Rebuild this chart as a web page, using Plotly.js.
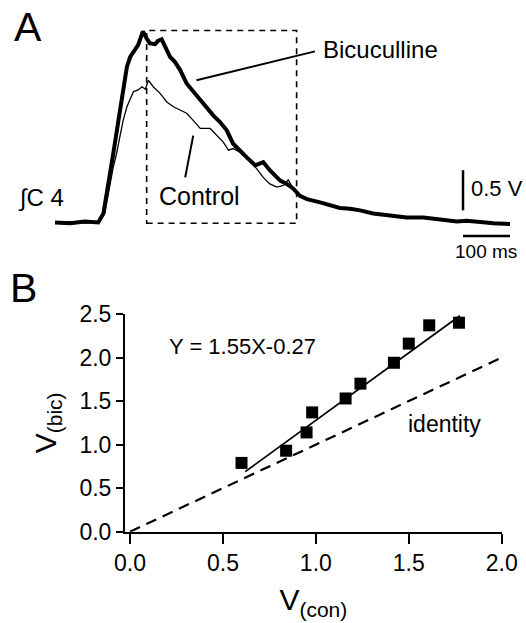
<!DOCTYPE html>
<html>
<head>
<meta charset="utf-8">
<script src="https://cdn.plot.ly/plotly-3.0.1.min.js"></script>
<style>html,body{margin:0;padding:0;background:#fff;}#chart{width:526px;height:623px;}</style>
</head>
<body>
<div id="chart"></div>
<script>
// Panel A: integrated C4 traces (time in ms, voltage in V)
const bicT = [0, 32, 64, 92, 103, 113, 124, 135, 145, 153, 160, 170, 177, 184, 187, 195, 202, 213, 219, 227, 234, 245, 255, 266, 280, 294, 309, 323, 337, 351, 365, 379, 394, 408, 426, 443, 457, 479, 493, 507, 521, 536, 564, 585, 606, 628, 649, 677, 713, 748, 784, 819, 855, 876, 904, 933, 968];
const bicV = [0, -0.01, 0.01, 0, 0.11, 0.44, 0.86, 1.27, 1.69, 1.94, 2.06, 2.15, 2.21, 2.33, 2.38, 2.29, 2.23, 2.22, 2.26, 2.28, 2.19, 2.06, 2.00, 1.90, 1.73, 1.63, 1.54, 1.44, 1.33, 1.25, 1.15, 0.98, 0.90, 0.81, 0.71, 0.75, 0.65, 0.52, 0.48, 0.42, 0.33, 0.29, 0.25, 0.21, 0.18, 0.17, 0.15, 0.11, 0.08, 0.06, 0.06, 0.03, 0.01, 0.02, 0, -0.01, -0.02];
const conT = [0, 32, 64, 94, 106, 113, 124, 131, 138, 145, 153, 160, 167, 177, 185, 192, 199, 209, 223, 238, 252, 266, 280, 294, 309, 330, 344, 358, 369, 379, 394, 411, 429, 443, 457, 472, 486, 496, 507, 521, 536, 564, 585, 606, 628, 649, 677, 713, 748, 784, 819, 855, 876, 904, 933, 968];
const conV = [0, 0.01, -0.01, 0, 0.12, 0.36, 0.69, 0.86, 1.06, 1.27, 1.44, 1.54, 1.63, 1.65, 1.69, 1.66, 1.77, 1.69, 1.61, 1.50, 1.44, 1.40, 1.36, 1.27, 1.17, 1.17, 1.08, 1.00, 0.90, 0.92, 0.87, 0.78, 0.67, 0.56, 0.48, 0.44, 0.46, 0.53, 0.42, 0.33, 0.29, 0.25, 0.21, 0.18, 0.17, 0.15, 0.11, 0.08, 0.06, 0.05, 0.03, 0.01, 0.02, 0, -0.01, -0.02];
// Analysis window (dashed box), ms and V
const boxT = [195, 514];
const boxV = [-0.01, 2.39];
// Scale bars
const scaleVT = 868, scaleVV = [0.15, 0.65];   // 0.5 V
const scaleHT = [868, 968], scaleHV = -0.17;   // 100 ms

// Panel B: V(con) vs V(bic)
const vCon = [0.60, 0.84, 0.95, 0.98, 1.16, 1.24, 1.42, 1.50, 1.61, 1.77];
const vBic = [0.79, 0.93, 1.14, 1.37, 1.53, 1.70, 1.94, 2.16, 2.37, 2.40];
const fitX = [0.62, 1.775];
const fitY = [0.69, 2.48];
const identX = [0, 2];
const identY = [0, 2];
const xTicks = [0, 0.5, 1, 1.5, 2];
const xTickText = ['0.0', '0.5', '1.0', '1.5', '2.0'];
const yTicks = [0, 0.5, 1, 1.5, 2, 2.5];
const yTickText = ['0.0', '0.5', '1.0', '1.5', '2.0', '2.5'];

const FONT = 'Liberation Sans, Arial, Helvetica, sans-serif';

const traces = [
  {x: conT, y: conV, xaxis: 'x2', yaxis: 'y2', mode: 'lines', line: {color: '#000', width: 1.3}, hoverinfo: 'skip'},
  {x: bicT, y: bicV, xaxis: 'x2', yaxis: 'y2', mode: 'lines', line: {color: '#000', width: 4}, hoverinfo: 'skip'},
  {x: identX, y: identY, mode: 'lines', line: {color: '#000', width: 2.2, dash: '11px,7px'}, cliponaxis: false},
  {x: fitX, y: fitY, mode: 'lines', line: {color: '#000', width: 1.8}},
  {x: vCon, y: vBic, mode: 'markers', marker: {symbol: 'square', size: 12, color: '#000'}, cliponaxis: false}
];

const layout = {
  width: 526, height: 623,
  margin: {l: 0, r: 0, t: 0, b: 0},
  paper_bgcolor: '#fff', plot_bgcolor: 'rgba(0,0,0,0)',
  showlegend: false,
  font: {family: FONT, color: '#000'},
  xaxis2: {domain: [0, 1], range: [-117, 1002], visible: false, fixedrange: true},
  yaxis2: {domain: [0.5, 1], range: [-1.11, 2.77], visible: false, fixedrange: true},
  xaxis: {
    domain: [0.23764, 0.95380], range: [-0.027, 2.0],
    showline: true, linewidth: 2, linecolor: '#000',
    ticks: 'outside', ticklen: 10, tickwidth: 2, tickcolor: '#000',
    tickvals: xTicks, ticktext: xTickText,
    tickfont: {size: 23, family: FONT},
    showgrid: false, zeroline: false,
    title: {text: 'V<sub>(con)</sub>', font: {size: 30, family: FONT}, standoff: 14}
  },
  yaxis: {
    domain: [0.14655, 0.49599], range: [0, 2.5],
    showline: true, linewidth: 2, linecolor: '#000',
    ticks: 'outside', ticklen: 7, tickwidth: 2, tickcolor: '#000',
    tickvals: yTicks, ticktext: yTickText,
    tickfont: {size: 23, family: FONT},
    showgrid: false, zeroline: false,
    title: {text: 'V<sub>(bic)</sub>', font: {size: 30, family: FONT}, standoff: 14}
  },
  shapes: [
    {type: 'rect', xref: 'x2', yref: 'y2', x0: boxT[0], x1: boxT[1], y0: boxV[0], y1: boxV[1],
     line: {color: '#000', width: 1.6, dash: '6px,5px'}},
    {type: 'line', xref: 'x2', yref: 'y2', x0: 301, y0: 1.77, x1: 553, y1: 2.13, line: {color: '#000', width: 2}},
    {type: 'line', xref: 'x2', yref: 'y2', x0: 294, y0: 1.08, x1: 277, y1: 0.56, line: {color: '#000', width: 2}},
    {type: 'line', xref: 'x2', yref: 'y2', x0: scaleVT, x1: scaleVT, y0: scaleVV[0], y1: scaleVV[1], line: {color: '#000', width: 2.5}},
    {type: 'line', xref: 'x2', yref: 'y2', x0: scaleHT[0], x1: scaleHT[1], y0: scaleHV, y1: scaleHV, line: {color: '#000', width: 2.5}}
  ],
  annotations: [
    {text: 'A', xref: 'paper', yref: 'paper', x: 27.5/526, y: 1 - 27.5/623, xanchor: 'center', yanchor: 'middle', showarrow: false, font: {size: 41, family: FONT}},
    {text: 'B', xref: 'paper', yref: 'paper', x: 23.5/526, y: 1 - 287.5/623, xanchor: 'center', yanchor: 'middle', showarrow: false, font: {size: 41, family: FONT}},
    {text: 'Bicuculline', xref: 'x2', yref: 'y2', x: 566, y: 2.15, xanchor: 'left', yanchor: 'middle', showarrow: false, font: {size: 24, family: FONT}},
    {text: 'Control', xref: 'x2', yref: 'y2', x: 217, y: 0.33, xanchor: 'left', yanchor: 'middle', showarrow: false, font: {size: 25, family: FONT}},
    {text: '0.5 V', xref: 'x2', yref: 'y2', x: 880, y: 0.42, xanchor: 'left', yanchor: 'middle', showarrow: false, font: {size: 22, family: FONT}},
    {text: '100 ms', xref: 'x2', yref: 'y2', x: 917, y: -0.36, xanchor: 'center', yanchor: 'middle', showarrow: false, font: {size: 19, family: FONT}},
    {text: '∫C 4', xref: 'x2', yref: 'y2', x: -82, y: 0.31, xanchor: 'left', yanchor: 'middle', showarrow: false, font: {size: 24, family: FONT}},
    {text: 'Y = 1.55X-0.27', xref: 'paper', yref: 'paper', x: 167/526, y: 1 - 346/623, xanchor: 'left', yanchor: 'middle', showarrow: false, font: {size: 22, family: FONT}},
    {text: 'identity', xref: 'paper', yref: 'paper', x: 406/526, y: 1 - 424/623, xanchor: 'left', yanchor: 'middle', showarrow: false, font: {size: 23, family: FONT}}
  ]
};

Plotly.newPlot('chart', traces, layout, {staticPlot: true, displayModeBar: false});
</script>
</body>
</html>
